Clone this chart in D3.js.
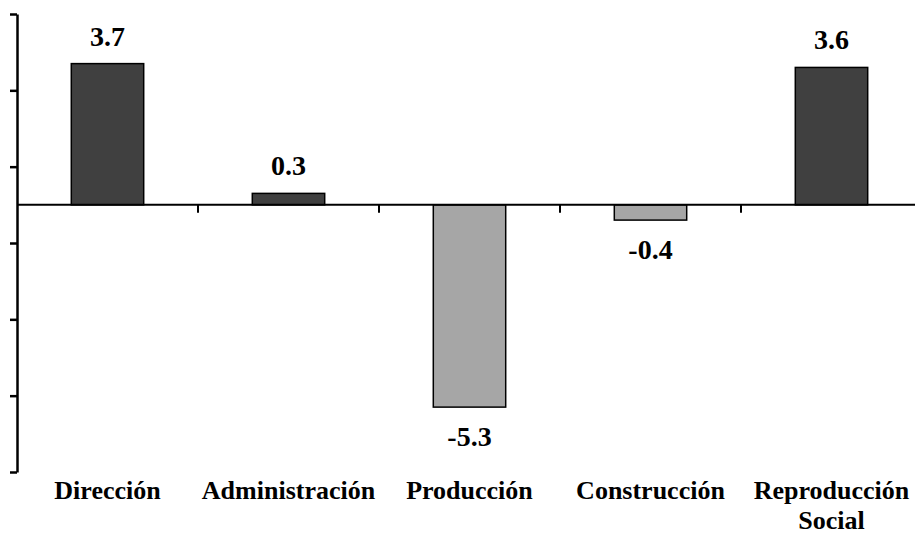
<!DOCTYPE html>
<html>
<head>
<meta charset="utf-8">
<script src="https://cdn.jsdelivr.net/npm/d3@7"></script>
<style>
  html, body { margin: 0; padding: 0; background: #fff; }
  svg { display: block; }
</style>
</head>
<body>
<svg id="chart" width="915" height="545"></svg>
<script>
const categories = ["Dirección", "Administración", "Producción", "Construcción", "Reproducción Social"];
const categoryLines = [["Dirección"], ["Administración"], ["Producción"], ["Construcción"], ["Reproducción", "Social"]];
const values = [3.7, 0.3, -5.3, -0.4, 3.6];
const valueLabels = ["3.7", "0.3", "-5.3", "-0.4", "3.6"];
const yTicks = [5, 3, 1, -1, -3, -5, -7];

const svg = d3.select("#chart");
const font = "'Liberation Serif', 'Times New Roman', serif";

const x = d3.scaleBand().domain(categories).range([17, 922]).padding(0);
const y = d3.scaleLinear().domain([-7, 5]).range([472, 14]);
const bw = x.bandwidth();

// bars
svg.append("g").selectAll("rect").data(categories).join("rect")
  .attr("x", d => x(d) + bw * 0.3)
  .attr("width", bw * 0.4)
  .attr("y", (d, i) => y(Math.max(0, values[i])))
  .attr("height", (d, i) => Math.abs(y(values[i]) - y(0)))
  .attr("fill", (d, i) => values[i] >= 0 ? "#404040" : "#a6a6a6")
  .attr("stroke", "#000")
  .attr("stroke-width", 1.5);

// y axis
const yAxis = svg.append("g").attr("transform", "translate(17,0)")
  .call(d3.axisLeft(y).tickValues(yTicks).tickFormat("").tickSize(7).tickSizeOuter(0));
yAxis.select(".domain").attr("stroke", "#000").attr("stroke-width", 2.5);
yAxis.selectAll(".tick line").attr("stroke", "#000").attr("stroke-width", 2.5);

// zero line (category axis)
const gx = svg.append("g");
gx.append("line")
  .attr("x1", 17).attr("x2", 915)
  .attr("y1", y(0)).attr("y2", y(0))
  .attr("stroke", "#000").attr("stroke-width", 2);
gx.selectAll("line.tk").data(categories.slice(1)).join("line")
  .attr("class", "tk")
  .attr("x1", d => x(d)).attr("x2", d => x(d))
  .attr("y1", y(0)).attr("y2", y(0) + 8)
  .attr("stroke", "#000").attr("stroke-width", 2);

// value labels
svg.append("g").selectAll("text").data(categories).join("text")
  .attr("x", d => x(d) + bw / 2)
  .attr("y", (d, i) => values[i] >= 0 ? y(values[i]) - 18 : y(values[i]) + 39)
  .attr("text-anchor", "middle")
  .attr("font-family", font)
  .attr("font-weight", "bold")
  .attr("font-size", 28)
  .attr("fill", "#000")
  .text((d, i) => valueLabels[i]);

// category labels
const cl = svg.append("g").selectAll("text").data(categories).join("text")
  .attr("x", d => x(d) + bw / 2)
  .attr("y", 499)
  .attr("text-anchor", "middle")
  .attr("font-family", font)
  .attr("font-weight", "bold")
  .attr("font-size", 26)
  .attr("fill", "#000");
cl.selectAll("tspan").data((d, i) => categoryLines[i].map((t, j) => ({t, j, cx: x(d) + bw / 2})))
  .join("tspan")
  .attr("x", d => d.cx)
  .attr("dy", d => d.j === 0 ? 0 : 30)
  .text(d => d.t);
</script>
</body>
</html>
